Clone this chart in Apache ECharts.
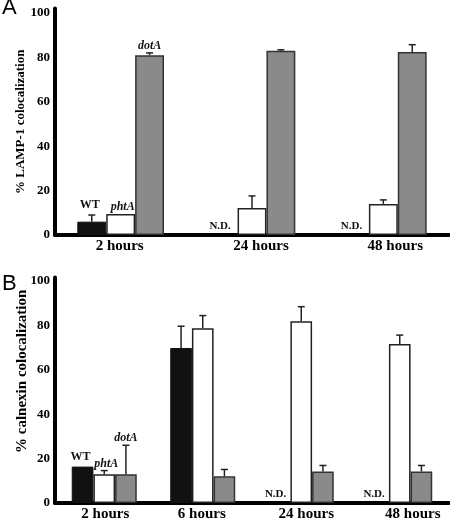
<!DOCTYPE html>
<html>
<head>
<meta charset="utf-8">
<script src="https://cdn.jsdelivr.net/npm/echarts@6/dist/echarts.min.js"></script>
<style>
html,body{margin:0;padding:0;background:#fff;}
#chart{width:450px;height:522px;}
</style>
</head>
<body>
<div id="chart"></div>
<script>
// ---- data ----
const strains = ['WT', 'phtA', 'dotA'];

const categoriesA = ['2 hours', '24 hours', '48 hours'];
const wtA = [6, null, null];
const wtAErr = [3, 0, 0];
const phtAA = [9.5, 12.2, 14];
const phtAAErr = [0, 5.4, 1.8];
const dotAA = [81, 83, 82.4];
const dotAAErr = [1, 0.4, 3.3];

const categoriesB = ['2 hours', '6 hours', '24 hours', '48 hours'];
const wtB = [16.4, 69.8, null, null];
const wtBErr = [0, 9.8, 0, 0];
const phtAB = [12.9, 78.7, 81.8, 71.6];
const phtABErr = [1.7, 5.7, 6.6, 4];
const dotAB = [13, 12, 14.2, 14.2];
const dotABErr = [13, 3.1, 2.7, 2.7];

const yTicks = [0, 20, 40, 60, 80, 100];

// ---- styles ----
const SERIF = '"Liberation Serif", "DejaVu Serif", serif';
const barStyles = [
  { color: '#111111', borderColor: '#111111', borderWidth: 1 },
  { color: '#ffffff', borderColor: '#222222', borderWidth: 1.5 },
  { color: '#8a8a8a', borderColor: '#333333', borderWidth: 1.5 }
];
const BAR_FRAC = 0.22;

function barSeries(vals, s, g) {
  return {
    type: 'bar', name: strains[s], xAxisIndex: g, yAxisIndex: g,
    barWidth: (BAR_FRAC * 100) + '%', barGap: '0%',
    itemStyle: barStyles[s],
    data: vals.map(v => v == null ? '-' : v),
    z: 3
  };
}

function errSeries(vals, errs, s, g, ndShift) {
  const data = vals.map((v, i) => v == null ? [i, 0, 0, 1] : [i, v, errs[i], 0]);
  return {
    type: 'custom', xAxisIndex: g, yAxisIndex: g, z: 5,
    encode: { x: 0, y: 1 },
    data: data,
    renderItem: function (params, api) {
      const cat = api.value(0), v = api.value(1), e = api.value(2), nd = api.value(3);
      const band = api.size([1, 0])[0];
      const basePt = api.coord([cat, 0]);
      const x = basePt[0] + (s - 1) * band * BAR_FRAC;
      const children = [];
      if (nd) {
        children.push({
          type: 'text',
          style: { text: 'N.D.', x: x + ndShift, y: basePt[1] - 3, align: 'center', verticalAlign: 'bottom',
                   font: 'bold 11px ' + SERIF, fill: '#111' }
        });
      } else {
        const top = api.coord([cat, v])[1];
        const et = api.coord([cat, v + e])[1];
        if (e > 0) {
          children.push({ type: 'line', shape: { x1: x, y1: top, x2: x, y2: et },
                          style: { stroke: '#222', lineWidth: 1.5 } });
          children.push({ type: 'line', shape: { x1: x - 3.5, y1: et, x2: x + 3.5, y2: et },
                          style: { stroke: '#222', lineWidth: 1.5 } });
        }
        if (cat === 0) {
          children.push({
            type: 'text',
            style: { text: strains[s], x: x + (s === 0 ? -2 : s === 1 ? 2 : 0), y: et - (s === 0 ? 4 : 1),
                     align: 'center', verticalAlign: 'bottom',
                     font: (s === 0 ? '' : 'italic ') + 'bold 12px ' + SERIF, fill: '#111' }
          });
        }
      }
      return { type: 'group', children: children };
    }
  };
}

function catLabel(shifts) {
  const rich = {};
  shifts.forEach((d, i) => {
    rich['c' + i] = {
      fontFamily: SERIF, fontWeight: 'bold', fontSize: 15, color: '#000',
      padding: d >= 0 ? [0, 0, 0, 2 * d] : [0, -2 * d, 0, 0]
    };
  });
  return {
    margin: 4, interval: 0, hideOverlap: false,
    fontFamily: SERIF, fontWeight: 'bold', fontSize: 15, color: '#000',
    formatter: (v, i) => '{c' + i + '|' + v + '}',
    rich: rich
  };
}

function yAxis(g, name, nameSize, nameGap, max, namePad) {
  return {
    type: 'value', gridIndex: g, min: 0, max: max, interval: 20,
    name: name, nameLocation: 'middle', nameGap: nameGap, nameMoveOverlap: false,
    nameTextStyle: { fontFamily: SERIF, fontWeight: 'bold', fontSize: nameSize, color: '#000', padding: namePad },
    axisLine: { show: true, lineStyle: { color: '#000', width: 4 } },
    axisTick: { show: false },
    splitLine: { show: false },
    axisLabel: {
      margin: 5, color: '#000', fontFamily: SERIF, fontWeight: 'bold', fontSize: 13,
      formatter: v => yTicks.indexOf(v) >= 0 ? String(v) : ''
    }
  };
}

function xAxis(g, cats, shifts) {
  return {
    type: 'category', gridIndex: g, data: cats,
    axisLine: { show: true, lineStyle: { color: '#000', width: 4 } },
    axisTick: { show: false },
    splitLine: { show: false },
    axisLabel: catLabel(shifts)
  };
}

const chart = echarts.init(document.getElementById('chart'), null, { renderer: 'canvas' });
chart.setOption({
  animation: false,
  backgroundColor: '#fff',
  graphic: [
    { type: 'text', left: 2, top: -3, style: { text: 'A', font: '22px "Liberation Sans", Arial, sans-serif', fill: '#000' } },
    { type: 'text', left: 2, top: 273, style: { text: 'B', font: '22px "Liberation Sans", Arial, sans-serif', fill: '#000' } }
  ],
  grid: [
    { left: 55, width: 394, top: 8.5, height: 226.5 },
    { left: 55, width: 394, top: 277.6, height: 227.9 }
  ],
  xAxis: [
    xAxis(0, categoriesA, [-1, 9, 12]),
    xAxis(1, categoriesB, [1, -1, 5, 13])
  ],
  yAxis: [
    yAxis(0, '% LAMP-1 colocalization', 13, 28, 102, [0, 0, 0, 0]),
    yAxis(1, '% calnexin colocalization', 15, 25, 101.5, [0, 0, 0, 38])
  ],
  series: [
    barSeries(wtA, 0, 0), barSeries(phtAA, 1, 0), barSeries(dotAA, 2, 0),
    errSeries(wtA, wtAErr, 0, 0, -3), errSeries(phtAA, phtAAErr, 1, 0, 0), errSeries(dotAA, dotAAErr, 2, 0, 0),
    barSeries(wtB, 0, 1), barSeries(phtAB, 1, 1), barSeries(dotAB, 2, 1),
    errSeries(wtB, wtBErr, 0, 1, -4), errSeries(phtAB, phtABErr, 1, 1, 0), errSeries(dotAB, dotABErr, 2, 1, 0)
  ]
});
</script>
</body>
</html>
